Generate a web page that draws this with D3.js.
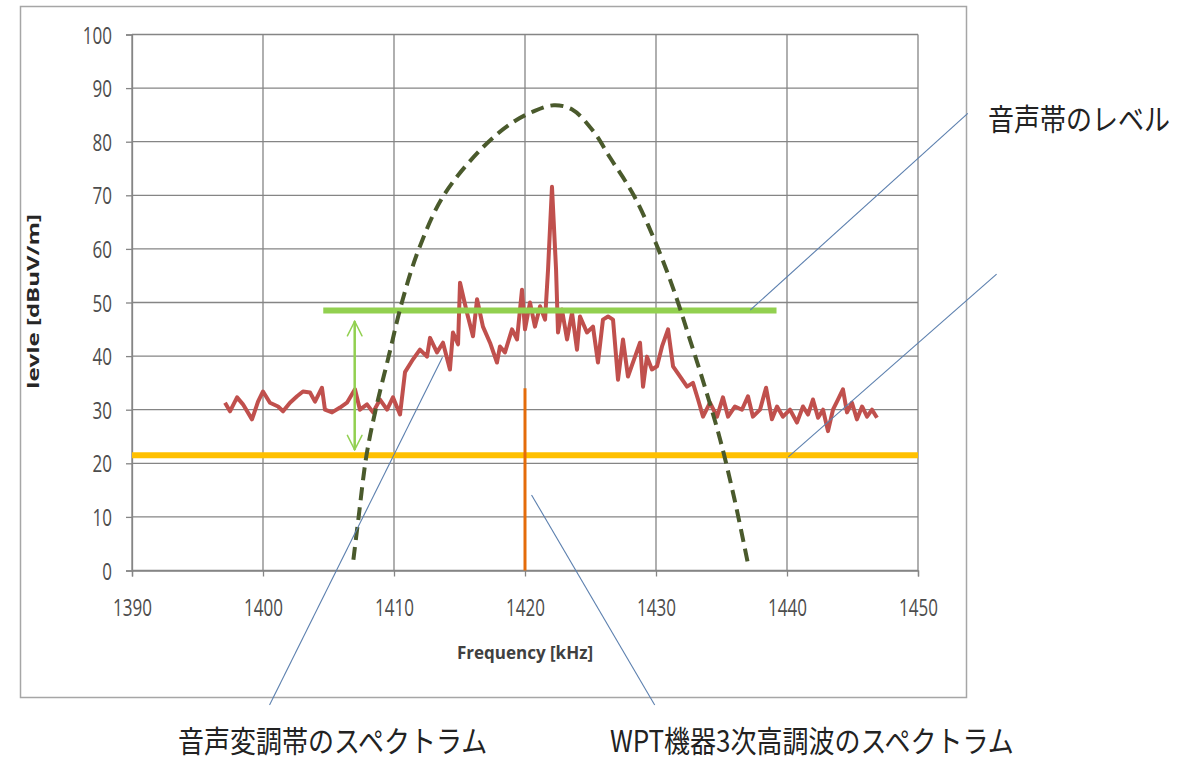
<!DOCTYPE html>
<html>
<head>
<meta charset="utf-8">
<script src="https://cdn.jsdelivr.net/npm/d3@7"></script>
<style>
  body { margin: 0; background: #fff; }
  svg { display: block; }
</style>
</head>
<body>
<div id="root"></div>
<script>
// x ticks / y ticks
var xTicks = [1390, 1400, 1410, 1420, 1430, 1440, 1450];
var yTicks = [0, 10, 20, 30, 40, 50, 60, 70, 80, 90, 100];

// measured spectrum (red)
var specFreq = [1397.1, 1397.48, 1398.02, 1398.47, 1399.16, 1399.62, 1400.0, 1400.53, 1401.15, 1401.53,
  1402.06, 1402.6, 1403.05, 1403.59, 1403.97, 1404.5, 1404.73, 1405.27, 1405.88, 1406.41,
  1407.02, 1407.4, 1407.94, 1408.4, 1408.93, 1409.47, 1409.92, 1410.46, 1410.84, 1411.45,
  1411.98, 1412.52, 1412.75, 1413.28, 1413.74, 1414.27, 1414.5, 1414.89, 1415.04, 1415.57,
  1416.03, 1416.34, 1416.79, 1417.33, 1417.86, 1418.09, 1418.47, 1419.01, 1419.39, 1419.77,
  1420.0, 1420.38, 1420.76, 1421.15, 1421.53, 1421.76, 1422.06, 1422.37, 1422.52, 1422.82,
  1423.21, 1423.59, 1423.97, 1424.2, 1424.73, 1425.19, 1425.57, 1425.95, 1426.34, 1426.72,
  1427.1, 1427.48, 1427.86, 1428.4, 1428.78, 1429.01, 1429.31, 1429.69, 1430.08, 1430.46,
  1430.92, 1431.3, 1431.83, 1432.37, 1432.82, 1433.21, 1433.59, 1434.12, 1434.66, 1435.11,
  1435.5, 1436.03, 1436.56, 1437.02, 1437.4, 1437.94, 1438.4, 1438.85, 1439.24, 1439.69,
  1440.23, 1440.76, 1441.22, 1441.6, 1441.98, 1442.37, 1442.75, 1443.13, 1443.51, 1443.89,
  1444.27, 1444.58, 1444.96, 1445.34, 1445.73, 1446.11, 1446.49, 1446.87];
var specLevel = [31.3, 29.7, 32.3, 31, 28.2, 31.5, 33.4, 31.3, 30.6, 29.7,
  31.3, 32.5, 33.4, 33.2, 31.5, 34.1, 30, 29.5, 30.4, 31.3,
  33.8, 30, 31, 29.5, 31.9, 30, 32.3, 29.1, 37, 39.4,
  41.2, 39.9, 43.4, 40.7, 42.5, 37.5, 44.4, 42.2, 53.7, 48.1,
  43.7, 50.6, 45.5, 42.5, 38.8, 41.8, 40.7, 45, 43.1, 52.4,
  45, 50, 45.5, 49.3, 46.8, 56.2, 71.6, 56.2, 44.4, 48.7,
  43.1, 48.1, 41.2, 47.4, 44.4, 45.5, 38.8, 46.8, 47.4, 46.8,
  35.6, 43.1, 36.2, 39.9, 42.5, 34.3, 39.9, 37.5, 38.1, 41.8,
  45, 38.1, 36.2, 34.3, 35, 31.9, 28.7, 31.3, 28.7, 32.3,
  28.7, 30.6, 30, 32.5, 28.7, 30, 34.1, 28.2, 30.6, 28.7,
  30, 27.6, 30.6, 29.1, 31.9, 28.5, 30, 26, 30, 31.9,
  33.8, 29.5, 31.3, 28.2, 30.6, 28.7, 30, 28.5];

// dashed envelope (dark green)
var envFreq = [1406.9, 1407.3, 1407.9, 1408.6, 1409.6, 1410.6, 1411.9, 1413.8, 1416.8, 1419.0,
  1420.6, 1422.2, 1423.6, 1425.2, 1426.5, 1428.3, 1430.0, 1431.4, 1432.6, 1433.8,
  1434.9, 1436.0, 1437.0];
var envLevel = [2, 10, 21.5, 30, 40, 50, 60, 70, 79, 83.5,
  85.6, 86.8, 86, 82, 77, 70, 61, 52, 43, 33.7,
  24.4, 13.2, 1.5];

// reference lines
var voiceLevel = 48.5, voiceFrom = 1404.6, voiceTo = 1439.2;
var noiseLevel = 21.5;
var harmonicFreq = 1420, harmonicTop = 34;
var arrowFreq = 1407, arrowFrom = 22.5, arrowTo = 46.5;

// annotation labels and leader lines (in data units)
var labels = ["音声帯のレベル", "音声変調帯のスペクトラム", "WPT機器3次高調波のスペクトラム"];
var leaders = [
  [[1453.8, 85.3], [1437.2, 48.6]],
  [[1456.0, 55.3], [1440.1, 21.2]],
  [[1400.5, -25.1], [1413.7, 39.8]],
  [[1420.5, 14.1], [1429.9, -25.1]]
];

var W = 1183, H = 761;
var margin = { top: 34.5, left: 132 };
var width = 786, height = 536;

var svg = d3.select("#root").append("svg")
  .attr("width", W).attr("height", H);

// chart frame
svg.append("rect")
  .attr("x", 20.5).attr("y", 6.5)
  .attr("width", 946).attr("height", 691)
  .attr("fill", "#fff").attr("stroke", "#a6a6a6").attr("stroke-width", 1.5);

var g = svg.append("g")
  .attr("transform", "translate(" + margin.left + "," + margin.top + ")");

var x = d3.scaleLinear().domain([1390, 1450]).range([0, width]);
var y = d3.scaleLinear().domain([0, 100]).range([height, 0]);

// gridlines
g.append("g").selectAll("line").data(yTicks).join("line")
  .attr("x1", 0).attr("x2", width)
  .attr("y1", d => y(d)).attr("y2", d => y(d))
  .attr("stroke", "#858585").attr("stroke-width", 1.3);
g.append("g").selectAll("line").data(xTicks).join("line")
  .attr("y1", 0).attr("y2", height)
  .attr("x1", d => x(d)).attr("x2", d => x(d))
  .attr("stroke", "#858585").attr("stroke-width", 1.3);

// axes (tick labels are drawn tall and narrow, like the source)
var tickFont = "'Open Sans', 'Noto Sans', sans-serif";
var yAxis = g.append("g")
  .call(d3.axisLeft(y).tickValues(yTicks).tickSize(6));
var xAxis = g.append("g")
  .attr("transform", "translate(0," + height + ")")
  .call(d3.axisBottom(x).tickValues(xTicks).tickFormat(d3.format("d")).tickSize(6));
[yAxis, xAxis].forEach(a => {
  a.select(".domain").attr("stroke", "#858585").attr("stroke-width", 1.3);
  a.selectAll(".tick line").attr("stroke", "#858585").attr("stroke-width", 1.3);
  a.selectAll("text")
    .attr("fill", "#4d4d4d")
    .attr("x", null).attr("y", null).attr("dy", null)
    .style("font-family", tickFont)
    .style("font-size", "17px");
});
yAxis.selectAll("text").attr("transform", "translate(-20,8.5) scale(1,1.4)");
xAxis.selectAll("text").attr("transform", "translate(0,45) scale(1,1.4)");

// axis titles
g.append("text")
  .attr("transform", "translate(-93," + (height / 2 - 1) + ") rotate(-90) scale(1.5,1)")
  .attr("text-anchor", "middle")
  .style("font-family", tickFont)
  .style("font-size", "16px").style("font-weight", "bold")
  .attr("fill", "#262626")
  .text("levle [dBuV/m]");

g.append("text")
  .attr("x", x(1420)).attr("y", height + 88)
  .attr("text-anchor", "middle")
  .style("font-family", tickFont)
  .style("font-size", "17px").style("font-weight", "bold")
  .attr("fill", "#404040")
  .text("Frequency [kHz]");

// noise floor (yellow)
g.append("line")
  .attr("x1", x(1390)).attr("x2", x(1450))
  .attr("y1", y(noiseLevel)).attr("y2", y(noiseLevel))
  .attr("stroke", "#ffc000").attr("stroke-width", 6);

// harmonic spike (orange)
g.append("line")
  .attr("x1", x(harmonicFreq)).attr("x2", x(harmonicFreq))
  .attr("y1", y(0)).attr("y2", y(harmonicTop))
  .attr("stroke", "#e46c0a").attr("stroke-width", 3);

// spectrum
var spec = specFreq.map((f, i) => [f, specLevel[i]]);
g.append("path")
  .datum(spec)
  .attr("fill", "none")
  .attr("stroke", "#c0504d")
  .attr("stroke-width", 4)
  .attr("stroke-linejoin", "round")
  .attr("d", d3.line().x(d => x(d[0])).y(d => y(d[1])));

// voice band level (green)
g.append("line")
  .attr("x1", x(voiceFrom)).attr("x2", x(voiceTo))
  .attr("y1", y(voiceLevel)).attr("y2", y(voiceLevel))
  .attr("stroke", "#92d050").attr("stroke-width", 6);

// double arrow
svg.append("defs").append("marker")
  .attr("id", "chev")
  .attr("viewBox", "0 0 12 12")
  .attr("refX", 11).attr("refY", 6)
  .attr("markerWidth", 7).attr("markerHeight", 7)
  .attr("markerUnits", "strokeWidth")
  .attr("orient", "auto-start-reverse")
  .append("path")
  .attr("d", "M1,1 L11,6 L1,11")
  .attr("fill", "none").attr("stroke", "#92d050").attr("stroke-width", 1)
  .attr("stroke-linecap", "round");

g.append("line")
  .attr("x1", x(arrowFreq)).attr("x2", x(arrowFreq))
  .attr("y1", y(arrowTo)).attr("y2", y(arrowFrom))
  .attr("stroke", "#92d050").attr("stroke-width", 2.5)
  .attr("marker-start", "url(#chev)").attr("marker-end", "url(#chev)");

// envelope
var env = envFreq.map((f, i) => [f, envLevel[i]]);
g.append("path")
  .datum(env)
  .attr("fill", "none")
  .attr("stroke", "#4a5a2c")
  .attr("stroke-width", 4)
  .attr("stroke-dasharray", "13,7")
  .attr("d", d3.line().curve(d3.curveCatmullRom.alpha(0.5)).x(d => x(d[0])).y(d => y(d[1])));

// leader lines
g.append("g").selectAll("line").data(leaders).join("line")
  .attr("x1", d => x(d[0][0])).attr("y1", d => y(d[0][1]))
  .attr("x2", d => x(d[1][0])).attr("y2", d => y(d[1][1]))
  .attr("stroke", "#5b7fae").attr("stroke-width", 1.1);

// annotation texts
var jp = "'Noto Sans CJK JP', sans-serif";
var labelPos = [[988, 130], [178, 752], [610, 752]];
svg.append("g").selectAll("text").data(labels).join("text")
  .attr("transform", (d, i) => "translate(" + labelPos[i][0] + "," + labelPos[i][1] + ") scale(1,1.15)")
  .style("font-family", jp).style("font-size", "26px").attr("fill", "#222")
  .text(d => d);
</script>
</body>
</html>
